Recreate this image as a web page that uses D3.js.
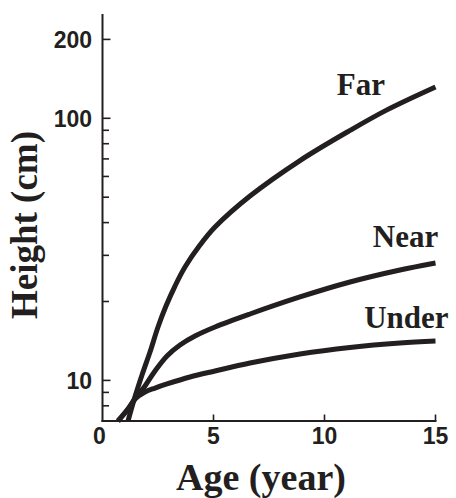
<!DOCTYPE html>
<html>
<head>
<meta charset="utf-8">
<script src="https://cdn.jsdelivr.net/npm/d3@7"></script>
<style>
    body { margin: 0; background: #fff; }
    svg { display: block; }
</style>
</head>
<body>
<div id="chart"></div>
<script>
"use strict";

// data
const farAge    = [1.149, 1.419, 1.779, 2.14,  2.5,   2.86,  3.266, 3.716, 4.392, 5.068, 6.644, 8.896, 11.149, 12.815, 15];
const farHeight = [7,     8.42,  10.48, 12.83, 15.99, 19.22, 22.91, 27.07, 32.83, 38.46, 50.51, 69.0,  89.9,   107.7,  131.7];
const nearAge    = [0.698, 1.149, 1.464, 1.914, 2.365, 2.905, 3.491, 4.167, 5.068, 6.644, 8.896, 11.149, 13.401, 15];
const nearHeight = [7,     7.78,  8.49,  9.52,  10.86, 12.39, 13.65, 14.77, 15.99, 17.92, 20.81, 23.73,  26.37,  28.05];
const underAge    = [0.698, 1.149, 1.464, 1.914, 2.365, 2.905, 3.94,  5.068, 6.644, 8.896, 11.149, 13.401, 15];
const underHeight = [7,     7.78,  8.49,  9.03,  9.35,  9.69,  10.3,  10.86, 11.65, 12.62, 13.36,  13.89,  14.13];
const xTicks = [0, 5, 10, 15];
const yTicksMajor = [10, 100, 200];
const yTicksMinor = [8, 9, 20, 30, 40, 50, 60, 70, 80, 90];
const labelNames = ["Far", "Near", "Under"];
const labelAge = [11.64, 13.65, 13.69];
const labelHeight = [122.7, 32.4, 15.85];



// setting
const setting = {
    width: 456,
    height: 498,
    plot: { left: 102.5, right: 435.5, top: 14, bottom: 421 },
    ink: "#231f20",
    axisWidth: 2,
    lineWidth: 5,
    tickMajor: 8,
    tickMinor: 6.5
};



// series table
const series = [
    { name: "Far",   values: farAge.map((a, i) => ({ age: a, h: farHeight[i] })) },
    { name: "Near",  values: nearAge.map((a, i) => ({ age: a, h: nearHeight[i] })) },
    { name: "Under", values: underAge.map((a, i) => ({ age: a, h: underHeight[i] })) }
];



// svg
const svg = d3.select("#chart")
.append("svg")
.attr("width", setting.width)
.attr("height", setting.height);



// scales
const scaleX = d3.scaleLinear()
.domain([0, 15])
.range([setting.plot.left, setting.plot.right]);

const scaleY = d3.scaleLog()
.domain([7, 250])
.range([setting.plot.bottom, setting.plot.top]);



// y axis (line + ticks pointing inward)
const yAxis = svg.append("g").attr("class", "y_axis");
yAxis.append("line")
.attr("x1", setting.plot.left).attr("x2", setting.plot.left)
.attr("y1", setting.plot.top).attr("y2", setting.plot.bottom + 1)
.attr("stroke", setting.ink)
.attr("stroke-width", setting.axisWidth);

yAxis.selectAll("line.minor")
.data(yTicksMinor)
.enter()
.append("line")
.attr("class", "minor")
.attr("x1", setting.plot.left).attr("x2", setting.plot.left + setting.tickMinor)
.attr("y1", d => scaleY(d)).attr("y2", d => scaleY(d))
.attr("stroke", setting.ink)
.attr("stroke-width", 1.6);

yAxis.selectAll("line.major")
.data(yTicksMajor)
.enter()
.append("line")
.attr("class", "major")
.attr("x1", setting.plot.left).attr("x2", setting.plot.left + setting.tickMajor)
.attr("y1", d => scaleY(d)).attr("y2", d => scaleY(d))
.attr("stroke", setting.ink)
.attr("stroke-width", 1.6);

yAxis.selectAll("text")
.data(yTicksMajor)
.enter()
.append("text")
.attr("x", setting.plot.left - 10.5)
.attr("y", d => scaleY(d))
.attr("dy", "0.36em")
.attr("text-anchor", "end")
.attr("font-family", "'Liberation Sans', Arial, sans-serif")
.attr("font-weight", "bold")
.attr("font-size", 23)
.attr("fill", setting.ink)
.text(d => d);



// x axis
const xAxis = svg.append("g").attr("class", "x_axis");
xAxis.append("line")
.attr("x1", setting.plot.left - 1).attr("x2", setting.plot.right + 1)
.attr("y1", setting.plot.bottom).attr("y2", setting.plot.bottom)
.attr("stroke", setting.ink)
.attr("stroke-width", setting.axisWidth);

xAxis.selectAll("line.tick")
.data(xTicks.filter(d => d > 0))
.enter()
.append("line")
.attr("class", "tick")
.attr("x1", d => scaleX(d)).attr("x2", d => scaleX(d))
.attr("y1", setting.plot.bottom).attr("y2", setting.plot.bottom - 6.5)
.attr("stroke", setting.ink)
.attr("stroke-width", 1.6);

xAxis.selectAll("text")
.data(xTicks)
.enter()
.append("text")
.attr("x", d => scaleX(d) - (d == 0 ? 3 : 0))
.attr("y", setting.plot.bottom + 22.5)
.attr("text-anchor", "middle")
.attr("font-family", "'Liberation Sans', Arial, sans-serif")
.attr("font-weight", "bold")
.attr("font-size", 23)
.attr("fill", setting.ink)
.text(d => d);



// axis titles
svg.append("text")
.attr("x", 261)
.attr("y", 490)
.attr("text-anchor", "middle")
.attr("font-family", "'Liberation Serif', 'Times New Roman', serif")
.attr("font-weight", "bold")
.attr("font-size", 38)
.attr("fill", setting.ink)
.text("Age (year)");

svg.append("text")
.attr("transform", "translate(37, 225) rotate(-90)")
.attr("text-anchor", "middle")
.attr("font-family", "'Liberation Serif', 'Times New Roman', serif")
.attr("font-weight", "bold")
.attr("font-size", 37)
.attr("fill", setting.ink)
.text("Height (cm)");



// curves
const line = d3.line()
.x(d => scaleX(d.age))
.y(d => scaleY(d.h))
.curve(d3.curveCatmullRom.alpha(0.5));

svg.append("g")
.attr("class", "curves")
.selectAll("path")
.data(series)
.enter()
.append("path")
.attr("d", d => line(d.values))
.attr("fill", "none")
.attr("stroke", setting.ink)
.attr("stroke-width", setting.lineWidth)
.attr("stroke-linejoin", "round");



// curve labels
svg.append("g")
.attr("class", "labels")
.selectAll("text")
.data(labelNames)
.enter()
.append("text")
.attr("x", (d, i) => scaleX(labelAge[i]))
.attr("y", (d, i) => scaleY(labelHeight[i]))
.attr("text-anchor", "middle")
.attr("font-family", "'Liberation Serif', 'Times New Roman', serif")
.attr("font-weight", "bold")
.attr("font-size", 31)
.attr("fill", setting.ink)
.text(d => d);
</script>
</body>
</html>
